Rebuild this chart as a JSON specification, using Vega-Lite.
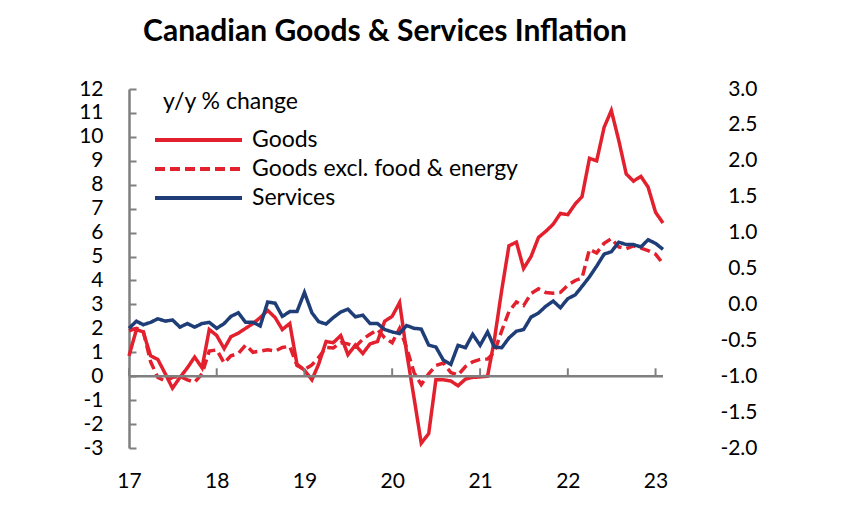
{
  "$schema": "https://vega.github.io/schema/vega-lite/v6.json",
  "width": 534,
  "height": 359,
  "autosize": "none",
  "padding": {"left": 129, "top": 89, "right": 178, "bottom": 64},
  "background": "white",
  "config": {"font": "Lato", "view": {"stroke": null}, "axis": {"grid": false, "labelOverlap": false}},
  "title": {"text": "Canadian Goods & Services Inflation", "fontSize": 30, "fontWeight": "bold", "font": "Lato", "color": "#000000", "anchor": "middle", "frame": "group", "dx": -11, "offset": 7, "baseline": "alphabetic"},
  "datasets": {
    "series": [
      {"d":"2017/01/01","s":"Goods","v":0.85},{"d":"2017/02/01","s":"Goods","v":1.95},{"d":"2017/03/01","s":"Goods","v":1.85},{"d":"2017/04/01","s":"Goods","v":0.85},{"d":"2017/05/01","s":"Goods","v":0.7},{"d":"2017/06/01","s":"Goods","v":0.1},{"d":"2017/07/01","s":"Goods","v":-0.5},{"d":"2017/08/01","s":"Goods","v":-0.05},{"d":"2017/09/01","s":"Goods","v":0.35},{"d":"2017/10/01","s":"Goods","v":0.8},{"d":"2017/11/01","s":"Goods","v":0.35},{"d":"2017/12/01","s":"Goods","v":1.95},
      {"d":"2018/01/01","s":"Goods","v":1.7},{"d":"2018/02/01","s":"Goods","v":1.15},{"d":"2018/03/01","s":"Goods","v":1.65},{"d":"2018/04/01","s":"Goods","v":1.8},{"d":"2018/05/01","s":"Goods","v":2.0},{"d":"2018/06/01","s":"Goods","v":2.2},{"d":"2018/07/01","s":"Goods","v":2.45},{"d":"2018/08/01","s":"Goods","v":2.75},{"d":"2018/09/01","s":"Goods","v":2.45},{"d":"2018/10/01","s":"Goods","v":1.95},{"d":"2018/11/01","s":"Goods","v":2.2},{"d":"2018/12/01","s":"Goods","v":0.5},
      {"d":"2019/01/01","s":"Goods","v":0.25},{"d":"2019/02/01","s":"Goods","v":-0.15},{"d":"2019/03/01","s":"Goods","v":0.5},{"d":"2019/04/01","s":"Goods","v":1.45},{"d":"2019/05/01","s":"Goods","v":1.4},{"d":"2019/06/01","s":"Goods","v":1.7},{"d":"2019/07/01","s":"Goods","v":0.9},{"d":"2019/08/01","s":"Goods","v":1.3},{"d":"2019/09/01","s":"Goods","v":0.95},{"d":"2019/10/01","s":"Goods","v":1.35},{"d":"2019/11/01","s":"Goods","v":1.45},{"d":"2019/12/01","s":"Goods","v":2.3},
      {"d":"2020/01/01","s":"Goods","v":2.5},{"d":"2020/02/01","s":"Goods","v":3.08},{"d":"2020/03/01","s":"Goods","v":1.0},{"d":"2020/04/01","s":"Goods","v":-0.9},{"d":"2020/05/01","s":"Goods","v":-2.8},{"d":"2020/06/01","s":"Goods","v":-2.4},{"d":"2020/07/01","s":"Goods","v":-0.15},{"d":"2020/08/01","s":"Goods","v":-0.15},{"d":"2020/09/01","s":"Goods","v":-0.2},{"d":"2020/10/01","s":"Goods","v":-0.4},{"d":"2020/11/01","s":"Goods","v":-0.12},{"d":"2020/12/01","s":"Goods","v":-0.05},
      {"d":"2021/01/01","s":"Goods","v":-0.03},{"d":"2021/02/01","s":"Goods","v":0.0},{"d":"2021/03/01","s":"Goods","v":1.5},{"d":"2021/04/01","s":"Goods","v":3.6},{"d":"2021/05/01","s":"Goods","v":5.45},{"d":"2021/06/01","s":"Goods","v":5.6},{"d":"2021/07/01","s":"Goods","v":4.5},{"d":"2021/08/01","s":"Goods","v":5.0},{"d":"2021/09/01","s":"Goods","v":5.8},{"d":"2021/10/01","s":"Goods","v":6.05},{"d":"2021/11/01","s":"Goods","v":6.35},{"d":"2021/12/01","s":"Goods","v":6.8},
      {"d":"2022/01/01","s":"Goods","v":6.75},{"d":"2022/02/01","s":"Goods","v":7.2},{"d":"2022/03/01","s":"Goods","v":7.5},{"d":"2022/04/01","s":"Goods","v":9.1},{"d":"2022/05/01","s":"Goods","v":9.0},{"d":"2022/06/01","s":"Goods","v":10.4},{"d":"2022/07/01","s":"Goods","v":11.1},{"d":"2022/08/01","s":"Goods","v":9.85},{"d":"2022/09/01","s":"Goods","v":8.45},{"d":"2022/10/01","s":"Goods","v":8.15},{"d":"2022/11/01","s":"Goods","v":8.35},{"d":"2022/12/01","s":"Goods","v":7.9},
      {"d":"2023/01/01","s":"Goods","v":6.85},{"d":"2023/02/01","s":"Goods","v":6.4},

      {"d":"2017/01/01","s":"Goods excl. food & energy","v":1.9},{"d":"2017/02/01","s":"Goods excl. food & energy","v":2.0},{"d":"2017/03/01","s":"Goods excl. food & energy","v":1.9},{"d":"2017/04/01","s":"Goods excl. food & energy","v":0.6},{"d":"2017/05/01","s":"Goods excl. food & energy","v":-0.05},{"d":"2017/06/01","s":"Goods excl. food & energy","v":-0.2},{"d":"2017/07/01","s":"Goods excl. food & energy","v":-0.05},{"d":"2017/08/01","s":"Goods excl. food & energy","v":0.0},{"d":"2017/09/01","s":"Goods excl. food & energy","v":-0.15},{"d":"2017/10/01","s":"Goods excl. food & energy","v":-0.25},{"d":"2017/11/01","s":"Goods excl. food & energy","v":0.1},{"d":"2017/12/01","s":"Goods excl. food & energy","v":1.05},
      {"d":"2018/01/01","s":"Goods excl. food & energy","v":1.1},{"d":"2018/02/01","s":"Goods excl. food & energy","v":0.55},{"d":"2018/03/01","s":"Goods excl. food & energy","v":0.85},{"d":"2018/04/01","s":"Goods excl. food & energy","v":0.95},{"d":"2018/05/01","s":"Goods excl. food & energy","v":1.3},{"d":"2018/06/01","s":"Goods excl. food & energy","v":1.0},{"d":"2018/07/01","s":"Goods excl. food & energy","v":1.05},{"d":"2018/08/01","s":"Goods excl. food & energy","v":1.1},{"d":"2018/09/01","s":"Goods excl. food & energy","v":1.05},{"d":"2018/10/01","s":"Goods excl. food & energy","v":1.2},{"d":"2018/11/01","s":"Goods excl. food & energy","v":1.25},{"d":"2018/12/01","s":"Goods excl. food & energy","v":0.45},
      {"d":"2019/01/01","s":"Goods excl. food & energy","v":0.28},{"d":"2019/02/01","s":"Goods excl. food & energy","v":0.47},{"d":"2019/03/01","s":"Goods excl. food & energy","v":0.78},{"d":"2019/04/01","s":"Goods excl. food & energy","v":1.2},{"d":"2019/05/01","s":"Goods excl. food & energy","v":1.18},{"d":"2019/06/01","s":"Goods excl. food & energy","v":1.4},{"d":"2019/07/01","s":"Goods excl. food & energy","v":1.35},{"d":"2019/08/01","s":"Goods excl. food & energy","v":1.22},{"d":"2019/09/01","s":"Goods excl. food & energy","v":1.55},{"d":"2019/10/01","s":"Goods excl. food & energy","v":1.75},{"d":"2019/11/01","s":"Goods excl. food & energy","v":1.95},{"d":"2019/12/01","s":"Goods excl. food & energy","v":1.6},
      {"d":"2020/01/01","s":"Goods excl. food & energy","v":1.4},{"d":"2020/02/01","s":"Goods excl. food & energy","v":2.0},{"d":"2020/03/01","s":"Goods excl. food & energy","v":1.2},{"d":"2020/04/01","s":"Goods excl. food & energy","v":0.15},{"d":"2020/05/01","s":"Goods excl. food & energy","v":-0.35},{"d":"2020/06/01","s":"Goods excl. food & energy","v":0.1},{"d":"2020/07/01","s":"Goods excl. food & energy","v":0.45},{"d":"2020/08/01","s":"Goods excl. food & energy","v":0.55},{"d":"2020/09/01","s":"Goods excl. food & energy","v":0.15},{"d":"2020/10/01","s":"Goods excl. food & energy","v":0.05},{"d":"2020/11/01","s":"Goods excl. food & energy","v":0.4},{"d":"2020/12/01","s":"Goods excl. food & energy","v":0.6},
      {"d":"2021/01/01","s":"Goods excl. food & energy","v":0.7},{"d":"2021/02/01","s":"Goods excl. food & energy","v":0.72},{"d":"2021/03/01","s":"Goods excl. food & energy","v":1.0},{"d":"2021/04/01","s":"Goods excl. food & energy","v":1.9},{"d":"2021/05/01","s":"Goods excl. food & energy","v":2.7},{"d":"2021/06/01","s":"Goods excl. food & energy","v":3.1},{"d":"2021/07/01","s":"Goods excl. food & energy","v":2.95},{"d":"2021/08/01","s":"Goods excl. food & energy","v":3.45},{"d":"2021/09/01","s":"Goods excl. food & energy","v":3.65},{"d":"2021/10/01","s":"Goods excl. food & energy","v":3.5},{"d":"2021/11/01","s":"Goods excl. food & energy","v":3.47},{"d":"2021/12/01","s":"Goods excl. food & energy","v":3.5},
      {"d":"2022/01/01","s":"Goods excl. food & energy","v":3.8},{"d":"2022/02/01","s":"Goods excl. food & energy","v":4.0},{"d":"2022/03/01","s":"Goods excl. food & energy","v":4.1},{"d":"2022/04/01","s":"Goods excl. food & energy","v":5.3},{"d":"2022/05/01","s":"Goods excl. food & energy","v":5.15},{"d":"2022/06/01","s":"Goods excl. food & energy","v":5.55},{"d":"2022/07/01","s":"Goods excl. food & energy","v":5.75},{"d":"2022/08/01","s":"Goods excl. food & energy","v":5.4},{"d":"2022/09/01","s":"Goods excl. food & energy","v":5.33},{"d":"2022/10/01","s":"Goods excl. food & energy","v":5.45},{"d":"2022/11/01","s":"Goods excl. food & energy","v":5.35},{"d":"2022/12/01","s":"Goods excl. food & energy","v":5.25},
      {"d":"2023/01/01","s":"Goods excl. food & energy","v":5.1},{"d":"2023/02/01","s":"Goods excl. food & energy","v":4.7},

      {"d":"2017/01/01","s":"Services","v":2.0},{"d":"2017/02/01","s":"Services","v":2.3},{"d":"2017/03/01","s":"Services","v":2.15},{"d":"2017/04/01","s":"Services","v":2.25},{"d":"2017/05/01","s":"Services","v":2.4},{"d":"2017/06/01","s":"Services","v":2.3},{"d":"2017/07/01","s":"Services","v":2.35},{"d":"2017/08/01","s":"Services","v":2.05},{"d":"2017/09/01","s":"Services","v":2.2},{"d":"2017/10/01","s":"Services","v":2.05},{"d":"2017/11/01","s":"Services","v":2.2},{"d":"2017/12/01","s":"Services","v":2.25},
      {"d":"2018/01/01","s":"Services","v":2.0},{"d":"2018/02/01","s":"Services","v":2.2},{"d":"2018/03/01","s":"Services","v":2.5},{"d":"2018/04/01","s":"Services","v":2.65},{"d":"2018/05/01","s":"Services","v":2.25},{"d":"2018/06/01","s":"Services","v":2.25},{"d":"2018/07/01","s":"Services","v":2.1},{"d":"2018/08/01","s":"Services","v":3.1},{"d":"2018/09/01","s":"Services","v":3.05},{"d":"2018/10/01","s":"Services","v":2.5},{"d":"2018/11/01","s":"Services","v":2.7},{"d":"2018/12/01","s":"Services","v":2.7},
      {"d":"2019/01/01","s":"Services","v":3.5},{"d":"2019/02/01","s":"Services","v":2.65},{"d":"2019/03/01","s":"Services","v":2.28},{"d":"2019/04/01","s":"Services","v":2.18},{"d":"2019/05/01","s":"Services","v":2.45},{"d":"2019/06/01","s":"Services","v":2.68},{"d":"2019/07/01","s":"Services","v":2.8},{"d":"2019/08/01","s":"Services","v":2.48},{"d":"2019/09/01","s":"Services","v":2.55},{"d":"2019/10/01","s":"Services","v":2.2},{"d":"2019/11/01","s":"Services","v":2.2},{"d":"2019/12/01","s":"Services","v":1.95},
      {"d":"2020/01/01","s":"Services","v":1.85},{"d":"2020/02/01","s":"Services","v":1.78},{"d":"2020/03/01","s":"Services","v":2.12},{"d":"2020/04/01","s":"Services","v":2.0},{"d":"2020/05/01","s":"Services","v":1.97},{"d":"2020/06/01","s":"Services","v":1.3},{"d":"2020/07/01","s":"Services","v":1.22},{"d":"2020/08/01","s":"Services","v":0.67},{"d":"2020/09/01","s":"Services","v":0.49},{"d":"2020/10/01","s":"Services","v":1.29},{"d":"2020/11/01","s":"Services","v":1.19},{"d":"2020/12/01","s":"Services","v":1.75},
      {"d":"2021/01/01","s":"Services","v":1.29},{"d":"2021/02/01","s":"Services","v":1.85},{"d":"2021/03/01","s":"Services","v":1.22},{"d":"2021/04/01","s":"Services","v":1.19},{"d":"2021/05/01","s":"Services","v":1.6},{"d":"2021/06/01","s":"Services","v":1.88},{"d":"2021/07/01","s":"Services","v":1.95},{"d":"2021/08/01","s":"Services","v":2.47},{"d":"2021/09/01","s":"Services","v":2.64},{"d":"2021/10/01","s":"Services","v":2.92},{"d":"2021/11/01","s":"Services","v":3.14},{"d":"2021/12/01","s":"Services","v":2.86},
      {"d":"2022/01/01","s":"Services","v":3.24},{"d":"2022/02/01","s":"Services","v":3.4},{"d":"2022/03/01","s":"Services","v":3.75},{"d":"2022/04/01","s":"Services","v":4.15},{"d":"2022/05/01","s":"Services","v":4.6},{"d":"2022/06/01","s":"Services","v":5.1},{"d":"2022/07/01","s":"Services","v":5.2},{"d":"2022/08/01","s":"Services","v":5.6},{"d":"2022/09/01","s":"Services","v":5.5},{"d":"2022/10/01","s":"Services","v":5.5},{"d":"2022/11/01","s":"Services","v":5.4},{"d":"2022/12/01","s":"Services","v":5.7},
      {"d":"2023/01/01","s":"Services","v":5.55},{"d":"2023/02/01","s":"Services","v":5.3}
    ],
    "zeroline": [{"d0": "2017/01/01", "d1": "2023/02/01", "v": 0}],
    "yearticks": [{"d": "2017/01/01", "v": 0, "v1": 0.33}, {"d": "2018/01/01", "v": 0, "v1": 0.33}, {"d": "2019/01/01", "v": 0, "v1": 0.33}, {"d": "2020/01/01", "v": 0, "v1": 0.33}, {"d": "2021/01/01", "v": 0, "v1": 0.33}, {"d": "2022/01/01", "v": 0, "v1": 0.33}, {"d": "2023/01/01", "v": 0, "v1": 0.33}],
    "rightaxis": [{"r": 3}, {"r": -2}]
  },
  "layer": [
    {
      "encoding": {
        "y": {
          "field": "v", "type": "quantitative",
          "scale": {"domain": [-3, 12], "nice": false, "zero": false},
          "axis": {
            "title": null, "grid": false, "values": [-3, -2, -1, 0, 1, 2, 3, 4, 5, 6, 7, 8, 9, 10, 11, 12],
            "domainColor": "#7f7f7f", "domainWidth": 2.5, "tickColor": "#7f7f7f", "tickWidth": 2, "tickSize": -7,
            "labelFontSize": 21, "labelColor": "#000000", "labelPadding": 33, "labelOverlap": false,
            "labelExpr": "replace(datum.label, '\u2212', '-')"
          }
        }
      },
      "layer": [
        {
          "data": {"name": "series"},
          "mark": {"type": "line", "strokeWidth": 3.5},
          "encoding": {
            "x": {
              "field": "d", "type": "temporal",
              "scale": {"domain": [{"year": 2017, "month": 1, "date": 1}, {"year": 2023, "month": 2, "date": 1}], "nice": false},
              "axis": {
                "title": null, "orient": "bottom", "domain": false, "ticks": false, "grid": false,
                "format": "%y", "labelFontSize": 21, "labelColor": "#000000", "labelPadding": 22,
                "labelFlush": false, "labelOverlap": false,
                "values": [{"year": 2017, "month": 1, "date": 1}, {"year": 2018, "month": 1, "date": 1}, {"year": 2019, "month": 1, "date": 1}, {"year": 2020, "month": 1, "date": 1}, {"year": 2021, "month": 1, "date": 1}, {"year": 2022, "month": 1, "date": 1}, {"year": 2023, "month": 1, "date": 1}]
              }
            },
            "color": {
              "field": "s", "type": "nominal",
              "scale": {"domain": ["Goods", "Goods excl. food & energy", "Services"], "range": ["#E3202E", "#E3202E", "#1F3E78"]},
              "legend": {
                "orient": "none", "legendX": 34, "legendY": 2, "padding": 0,
                "title": "y/y % change", "titleFontSize": 23, "titleFontWeight": "normal", "titleColor": "#000000", "titlePadding": 14,
                "labelFontSize": 23, "labelColor": "#000000", "labelOffset": 65, "labelLimit": 400, "rowPadding": 5,
                "symbolType": "M-2,0H6.7", "symbolSize": 400, "symbolStrokeWidth": 4
              }
            },
            "strokeDash": {
              "field": "s", "type": "nominal",
              "scale": {"domain": ["Goods", "Goods excl. food & energy", "Services"], "range": [[1, 0], [10, 5], [1, 0]]},
              "legend": {
                "orient": "none", "legendX": 34, "legendY": 2, "padding": 0,
                "title": "y/y % change", "titleFontSize": 23, "titleFontWeight": "normal", "titleColor": "#000000", "titlePadding": 14,
                "labelFontSize": 23, "labelColor": "#000000", "labelOffset": 65, "labelLimit": 400, "rowPadding": 5,
                "symbolType": "M-2,0H6.7", "symbolSize": 400, "symbolStrokeWidth": 4
              }
            }
          }
        },
        {
          "data": {"name": "zeroline"},
          "mark": {"type": "rule", "color": "#7f7f7f", "strokeWidth": 2.5},
          "encoding": {
            "x": {"field": "d0", "type": "temporal"},
            "x2": {"field": "d1"}
          }
        },
        {
          "data": {"name": "yearticks"},
          "mark": {"type": "rule", "color": "#7f7f7f", "strokeWidth": 2},
          "encoding": {
            "x": {"field": "d", "type": "temporal"},
            "y2": {"field": "v1"}
          }
        }
      ]
    },
    {
      "data": {"name": "rightaxis"},
      "mark": {"type": "point", "opacity": 0},
      "encoding": {
        "y": {
          "field": "r", "type": "quantitative",
          "scale": {"domain": [-2, 3], "nice": false, "zero": false},
          "axis": {
            "orient": "right", "title": null, "grid": false, "domain": false, "ticks": false,
            "values": [-2, -1.5, -1, -0.5, 0, 0.5, 1, 1.5, 2, 2.5, 3], "format": ".1f",
            "labelFontSize": 21, "labelColor": "#000000", "labelAlign": "right", "labelPadding": 94,
            "labelExpr": "replace(datum.label, '\u2212', '-')"
          }
        }
      }
    }
  ],
  "resolve": {"scale": {"y": "independent"}}
}
